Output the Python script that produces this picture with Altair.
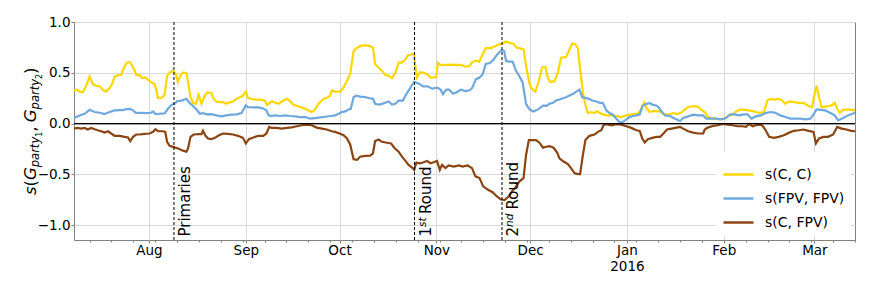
import altair as alt
import pandas as pd

FONT = "DejaVu Sans"
BASE = pd.Timestamp("2015-07-01")

# (day offset from 2015-07-01, value)
cc = [(7,0.325),(7.9,0.334),(8.8,0.315),(9.8,0.308),(10.9,0.373),(12.0,0.461),(13.0,0.39),(14.1,0.373),(15.2,0.367),(16.2,0.334),
      (17.1,0.315),(18.2,0.341),(19.2,0.39),(20.0,0.461),(21.1,0.477),(22.1,0.48),(23.0,0.552),(23.9,0.60),(24.8,0.607),(25.5,0.575),
      (26.4,0.526),(26.9,0.477),(28.0,0.477),(28.9,0.448),(29.9,0.455),(30.7,0.432),(31.7,0.406),(32.8,0.39),(33.4,0.325),(33.9,0.253),
      (35.0,0.253),(36.0,0.282),(36.8,0.47),(37.6,0.503),(38.7,0.519),(39.6,0.487),(40.2,0.412),(41.0,0.47),(41.9,0.503),(43.0,0.497),
      (43.5,0.406),(44.3,0.26),(45.1,0.205),(46.0,0.195),(46.9,0.282),(47.8,0.195),(48.9,0.276),(49.6,0.308),(51.0,0.302),(51.7,0.244),
      (52.6,0.218),(53.7,0.211),(54.7,0.211),(55.8,0.195),(56.9,0.211),(57.9,0.218),(59.0,0.244),(60.1,0.26),(61.1,0.276),(62.0,0.315),
      (62.7,0.253),(63.8,0.244),(64.9,0.237),(65.9,0.237),(67.0,0.234),(68.1,0.227),(68.8,0.185),(70.3,0.218),(71.4,0.205),(72.4,0.195),
      (73.5,0.218),(75.1,0.244),(76.2,0.221),(77.2,0.185),(78.9,0.169),(80.5,0.153),(82.1,0.13),(83.1,0.114),(83.9,0.13),(85.3,0.195),
      (86.9,0.244),(88.3,0.26),(89.0,0.276),(89.5,0.325),(90.6,0.315),(92.2,0.315),(93.3,0.357),(94.4,0.422),(95.4,0.487),(96.5,0.714),
      (97.3,0.74),(98.6,0.763),(100.2,0.773),(101.8,0.763),(102.7,0.747),(103.4,0.584),(104.5,0.552),(105.6,0.519),(106.6,0.48),(107.7,0.47),
      (108.8,0.448),(109.9,0.503),(110.9,0.60),(112.0,0.60),(113.1,0.633),(113.9,0.672),(115.2,0.682),(115.8,0.69),(116.7,0.451),(117.8,0.506),
      (119.0,0.5),(120.1,0.484),(121.2,0.451),(122.9,0.458),(123.5,0.6),(124.4,0.575),(126.0,0.578),(127.6,0.58),(129.2,0.578),(130.8,0.578),
      (132.2,0.56),(133.5,0.565),(134.5,0.604),(135.6,0.62),(136.7,0.61),(137.8,0.68),(138.8,0.743),(140.4,0.743),(142.0,0.763),(143.1,0.782),
      (143.9,0.782),(145.2,0.808),(146.4,0.795),(147.7,0.786),(148.7,0.747),(149.8,0.74),(150.9,0.73),(151.7,0.568),(152.8,0.39),(153.6,0.341),
      (154.7,0.315),(155.8,0.422),(156.8,0.552),(157.9,0.558),(158.7,0.448),(159.4,0.412),(160.8,0.416),(161.9,0.503),(162.9,0.649),(164.5,0.656),
      (165.4,0.714),(166.5,0.789),(167.5,0.779),(168.3,0.74),(169.0,0.536),(169.9,0.308),(170.7,0.185),(171.5,0.104),(172.6,0.114),(173.6,0.104),
      (174.4,0.123),(175.2,0.107),(176.3,0.091),(177.4,0.081),(179.0,0.081),(180.6,0.075),(182.2,0.065),(183.8,0.081),(185.1,0.088),(186.5,0.097),
      (187.5,0.097),(188.6,0.146),(189.5,0.205),(190.2,0.153),(191.3,0.114),(192.3,0.123),(193.4,0.123),(194.6,0.12),(195.7,0.097),(197.3,0.088),
      (198.9,0.104),(199.9,0.094),(201.3,0.107),(202.6,0.14),(203.6,0.162),(205.2,0.172),(206.8,0.166),(207.8,0.136),(208.9,0.114),(209.9,0.065),
      (211.0,0.055),(212.0,0.049),(213.6,0.042),(215.2,0.049),(216.8,0.081),(217.8,0.088),(218.9,0.12),(220.3,0.14),(221.5,0.136),(223.1,0.13),
      (224.7,0.12),(226.3,0.107),(227.9,0.114),(228.9,0.227),(230.0,0.244),(231.2,0.237),(232.6,0.244),(233.7,0.227),(234.7,0.195),(235.8,0.218),
      (237.4,0.211),(239.0,0.205),(240.5,0.205),(241.8,0.179),(243.2,0.162),(244.0,0.276),(244.7,0.373),(245.5,0.26),(246.3,0.162),(247.9,0.169),
      (249.5,0.179),(250.5,0.205),(251.3,0.146),(252.1,0.107),(253.2,0.136),(254.8,0.14),(257,0.13)]

fpv = [(7,0.055),(8.8,0.081),(10.4,0.097),(12.0,0.136),(13.6,0.114),(15.2,0.107),(16.8,0.094),(18.4,0.114),(20.0,0.13),(21.6,0.133),
       (22.7,0.133),(23.7,0.143),(25.0,0.146),(25.9,0.13),(26.9,0.104),(28.5,0.107),(30.1,0.104),(31.7,0.107),(32.3,0.12),(33.1,0.094),
       (34.4,0.097),(36.0,0.10),(37.1,0.146),(38.2,0.185),(39.2,0.195),(40.0,0.22),(41.4,0.227),(43.0,0.244),(43.8,0.211),(44.9,0.179),
       (46.0,0.146),(47.3,0.097),(48.3,0.104),(49.4,0.091),(51.0,0.094),(52.6,0.081),(54.2,0.071),(55.8,0.081),(57.4,0.088),(59.0,0.091),
       (60.6,0.104),(62.0,0.179),(62.7,0.162),(64.4,0.159),(66.0,0.159),(67.6,0.149),(68.6,0.13),(69.2,0.088),(69.8,0.075),(71.4,0.081),
       (73.0,0.075),(74.6,0.081),(76.2,0.075),(77.8,0.071),(79.4,0.065),(81.0,0.065),(82.6,0.049),(84.2,0.055),(85.8,0.062),(87.4,0.068),
       (89.0,0.075),(90.6,0.081),(91.7,0.097),(92.7,0.114),(93.8,0.12),(94.9,0.14),(95.6,0.146),(96.5,0.26),(97.3,0.276),(98.6,0.266),
       (100.2,0.26),(101.6,0.25),(102.7,0.244),(103.4,0.195),(104.5,0.188),(105.6,0.195),(106.6,0.205),(107.7,0.218),(108.8,0.188),(109.9,0.195),
       (110.9,0.227),(112.3,0.227),(113.1,0.276),(114.1,0.325),(115.2,0.38),(115.9,0.412),(117.4,0.393),(118.7,0.367),(120.1,0.367),(121.7,0.344),
       (123.3,0.354),(124.4,0.334),(125.1,0.289),(126.2,0.334),(127.1,0.334),(128.3,0.295),(129.7,0.312),(130.8,0.334),(132.2,0.321),(133.7,0.328),
       (134.5,0.354),(135.6,0.435),(136.7,0.451),(137.8,0.484),(138.8,0.588),(140.1,0.597),(141.2,0.627),(142.6,0.685),(143.9,0.724),(144.7,0.715),
       (145.3,0.617),(146.2,0.61),(147.4,0.61),(148.5,0.519),(149.6,0.464),(150.6,0.406),(151.7,0.195),(152.8,0.14),(154.1,0.12),(155.5,0.14),
       (156.5,0.162),(157.3,0.179),(158.1,0.172),(159.2,0.195),(160.3,0.205),(161.3,0.227),(162.4,0.237),(163.5,0.25),(164.5,0.26),(165.6,0.276),
       (166.7,0.292),(167.8,0.315),(168.8,0.334),(169.7,0.26),(170.7,0.253),(171.8,0.244),(172.9,0.227),(174.2,0.218),(175.4,0.205),(176.3,0.205),
       (177.4,0.13),(178.4,0.104),(179.5,0.088),(180.6,0.049),(181.6,0.016),(182.7,0.016),(183.8,0.042),(184.9,0.065),(185.9,0.075),(187.0,0.081),
       (188.1,0.091),(188.9,0.172),(190.2,0.195),(191.3,0.201),(192.3,0.185),(193.4,0.179),(194.1,0.162),(195.2,0.114),(196.2,0.081),(197.8,0.075),
       (199.4,0.049),(201.0,0.026),(202.0,0.055),(203.6,0.071),(205.2,0.088),(206.8,0.081),(208.4,0.081),(209.4,0.049),(211.0,0.049),(212.6,0.049),
       (214.2,0.042),(215.7,0.055),(217.1,0.091),(218.4,0.091),(220.0,0.081),(221.3,0.091),(222.6,0.091),(223.9,0.049),(225.2,0.071),(226.8,0.081),
       (228.4,0.104),(230.0,0.114),(231.5,0.107),(233.1,0.081),(234.7,0.065),(236.3,0.049),(237.9,0.049),(239.5,0.049),(241.1,0.042),(242.7,0.049),
       (243.7,0.088),(244.7,0.14),(245.8,0.136),(247.4,0.13),(249.0,0.107),(250.5,0.081),(251.6,0.032),(253.2,0.055),(254.8,0.081),(257,0.107)]

c_fpv = [(7,-0.049),(8.2,-0.042),(9.3,-0.049),(10.4,-0.042),(11.4,-0.058),(12.5,-0.042),(13.6,-0.055),(14.6,-0.065),(15.7,-0.075),(16.8,-0.088),
         (17.9,-0.075),(18.9,-0.097),(20.0,-0.12),(21.6,-0.12),(23.2,-0.13),(24.3,-0.136),(25.0,-0.172),(25.9,-0.13),(26.9,-0.107),(28.0,-0.107),
         (29.6,-0.10),(31.2,-0.097),(32.3,-0.081),(33.1,-0.055),(33.9,-0.075),(35.5,-0.075),(36.2,-0.081),(36.8,-0.179),(37.6,-0.218),(39.2,-0.234),
         (40.3,-0.244),(41.9,-0.266),(43.0,-0.276),(43.5,-0.244),(44.3,-0.13),(45.3,-0.107),(46.7,-0.104),(47.8,-0.104),(48.3,-0.071),(49.1,-0.12),
         (49.9,-0.146),(51.0,-0.153),(52.1,-0.14),(53.4,-0.114),(54.7,-0.097),(56.3,-0.10),(57.9,-0.107),(59.5,-0.12),(61.1,-0.14),(62.0,-0.195),
         (63.0,-0.153),(64.4,-0.136),(66.0,-0.12),(67.6,-0.12),(68.6,-0.097),(69.5,-0.032),(70.3,-0.042),(71.9,-0.042),(73.5,-0.049),(75.1,-0.042),
         (76.7,-0.036),(78.3,-0.026),(79.9,-0.016),(81.5,-0.01),(83.1,-0.016),(84.7,-0.039),(86.3,-0.049),(87.9,-0.058),(89.5,-0.075),(90.6,-0.081),
         (92.0,-0.097),(93.3,-0.114),(94.4,-0.146),(95.4,-0.205),(96.5,-0.351),(97.6,-0.357),(98.6,-0.325),(100.2,-0.318),(101.8,-0.315),(102.7,-0.292),
         (103.4,-0.172),(104.5,-0.156),(105.6,-0.179),(107.2,-0.188),(108.5,-0.195),(109.5,-0.237),(110.9,-0.276),(112.0,-0.325),(113.1,-0.367),(114.1,-0.406),
         (115.2,-0.432),(115.9,-0.455),(116.6,-0.383),(117.7,-0.39),(118.7,-0.383),(120.0,-0.367),(121.1,-0.39),(122.1,-0.38),(123.2,-0.367),(124.1,-0.455),
         (124.8,-0.406),(125.9,-0.438),(126.9,-0.412),(128.6,-0.422),(130.2,-0.412),(131.4,-0.422),(133.0,-0.412),(134.4,-0.438),(135.5,-0.519),(136.8,-0.536),
         (138.0,-0.617),(139.4,-0.649),(141.0,-0.675),(142.3,-0.714),(143.7,-0.747),(144.8,-0.753),(146.2,-0.714),(147.2,-0.666),(148.3,-0.627),(149.6,-0.568),
         (150.9,-0.536),(151.7,-0.308),(152.6,-0.162),(153.6,-0.162),(154.9,-0.162),(156.0,-0.188),(157.1,-0.237),(158.1,-0.227),(159.2,-0.221),(160.5,-0.237),
         (161.6,-0.282),(162.4,-0.341),(163.7,-0.373),(165.1,-0.399),(166.1,-0.438),(167.2,-0.487),(168.3,-0.497),(169.0,-0.497),(169.9,-0.308),(170.7,-0.162),
         (172.0,-0.12),(173.6,-0.107),(174.7,-0.081),(175.8,-0.065),(176.5,-0.016),(177.4,-0.006),(179.0,-0.016),(180.6,-0.006),(182.2,-0.01),(183.8,-0.026),
         (185.4,-0.042),(187.0,-0.065),(188.1,-0.071),(188.9,-0.146),(189.7,-0.185),(190.7,-0.153),(192.1,-0.14),(193.4,-0.13),(194.6,-0.13),(195.7,-0.097),
         (196.8,-0.058),(198.3,-0.049),(199.9,-0.039),(201.0,-0.032),(202.0,-0.049),(203.6,-0.075),(205.2,-0.088),(206.8,-0.097),(208.4,-0.097),(208.9,-0.058),
         (209.9,-0.039),(211.5,-0.023),(213.1,-0.016),(214.7,-0.003),(216.3,-0.01),(217.8,-0.016),(219.4,-0.026),(221.0,-0.026),(222.1,-0.032),(223.1,-0.003),
         (224.2,-0.026),(225.8,-0.01),(227.3,-0.016),(228.4,-0.065),(229.5,-0.13),(231.0,-0.14),(232.6,-0.13),(234.2,-0.114),(235.8,-0.091),(237.4,-0.071),
         (239.0,-0.065),(240.5,-0.058),(242.1,-0.071),(243.7,-0.081),(244.5,-0.195),(245.5,-0.146),(246.9,-0.13),(248.4,-0.13),(250.0,-0.107),(251.3,-0.032),
         (252.7,-0.049),(254.2,-0.058),(255.8,-0.071),(257,-0.075)]

series_names = ["s(C, C)", "s(FPV, FPV)", "s(C, FPV)"]
series_colors = ["#FFD700", "#6FA8DC", "#8B4513"]

event_dates = ["2015-08-09", "2015-10-25", "2015-11-22"]
event_main = ["Primaries", "1", "2"]
event_sup = ["", "st", "nd"]

frames = []
for name, pts in zip(series_names, [cc, fpv, c_fpv]):
    frames.append(pd.DataFrame({
        "date": [BASE + pd.Timedelta(days=d) for d, _ in pts],
        "value": [v for _, v in pts],
        "series": name,
    }))
df = pd.concat(frames, ignore_index=True)

x_scale = alt.Scale(domain=[alt.DateTime(year=2015, month=7, date=8),
                            alt.DateTime(year=2016, month=3, date=14)])
y_scale = alt.Scale(domain=[-1.145, 1.0], nice=False, zero=False)

month_vals = [alt.DateTime(year=2015, month=m, date=1) for m in range(8, 13)] + \
             [alt.DateTime(year=2016, month=m, date=1) for m in range(1, 4)]
week_vals = [alt.DateTime(year=d.year, month=d.month, date=d.day)
             for d in pd.date_range("2015-07-13", "2016-03-14", freq="W-MON")]

x_axis = alt.Axis(values=month_vals, title=None, grid=True, tickSize=3, labelPadding=0,
                  labelExpr="month(datum.value) == 0 ? [timeFormat(datum.value, '%b'), timeFormat(datum.value, '%Y')] : timeFormat(datum.value, '%b')",
                  labelLineHeight=16)
y_axis = alt.Axis(values=[-1.0, -0.5, 0.0, 0.5, 1.0], format=".1f", title=None, grid=True,
                  tickSize=3, labelPadding=1)

lines = alt.Chart(df).mark_line(strokeWidth=2.2).encode(
    x=alt.X("date:T", scale=x_scale, axis=x_axis),
    y=alt.Y("value:Q", scale=y_scale, axis=y_axis),
    color=alt.Color("series:N", sort=series_names,
                    scale=alt.Scale(domain=series_names, range=series_colors),
                    legend=alt.Legend(title=None, orient="bottom-right", offset=4.5, padding=6,
                                      fillColor="white", symbolType="stroke", symbolSize=900,
                                      symbolStrokeWidth=2.5, labelFont=FONT, labelFontSize=14,
                                      labelOffset=10, rowPadding=-17, labelLimit=300)),
)

zero = alt.Chart(pd.DataFrame({"v": [0.0]})).mark_rule(color="black", strokeWidth=1.2).encode(
    y=alt.Y("v:Q", scale=y_scale, axis=y_axis))

ev = pd.DataFrame({"date": event_dates, "main": event_main, "sup": event_sup})
rules = alt.Chart(ev).mark_rule(color="black", strokeWidth=1, strokeDash=[3, 2]).encode(
    x=alt.X("date:T", scale=x_scale,
            axis=alt.Axis(orient="bottom", values=week_vals, labels=False, grid=False,
                          domain=False, tickSize=2, title=None)))

def ev_text(data, field, size, dx, dy, style="normal"):
    return alt.Chart(data).mark_text(angle=270, align="left", baseline="top", font=FONT,
                                     fontSize=size, fontStyle=style, dx=dx, dy=dy,
                                     color="black").encode(
        x=alt.X("date:T", scale=x_scale, axis=None), y=alt.value(214.5), text=f"{field}:N")

ev_main = ev_text(ev, "main", 15, 0, 4.5)
ev_sup = ev_text(ev[ev["sup"] != ""], "sup", 10.5, 9.5, 3.5, "italic")
ev_r1 = ev_text(pd.DataFrame({"date": [event_dates[1]], "t": ["Round"]}), "t", 15, 22.5, 4.5)
ev_r2 = ev_text(pd.DataFrame({"date": [event_dates[2]], "t": ["Round"]}), "t", 15, 27, 4.5)

# y title: s(G_{party_1}, G_{party_2}) built from pieces
title_pieces = [("s", 0, 0, 16.5, "italic"), ("(", 8.6, 0, 16.5, "normal"), ("G", 15.0, 0, 16.5, "italic"),
                ("party", 27.8, 3.5, 11.5, "italic"), ("1", 58.2, 6, 8, "normal"),
                (",", 63.3, 0, 16.5, "normal"), ("G", 72.8, 0, 16.5, "italic"),
                ("party", 85.6, 3.5, 11.5, "italic"), ("2", 116.0, 6, 8, "normal"),
                (")", 121.1, 0, 16.5, "normal")]
title_layers = []
for txt, along, shift, size, style in title_pieces:
    title_layers.append(
        alt.Chart(pd.DataFrame({"t": [txt]})).mark_text(
            angle=270, align="left", baseline="alphabetic", font=FONT, fontSize=size,
            fontStyle=style, color="black").encode(
            x=alt.value(-38.5 + shift), y=alt.value(173 - along), text="t:N"))

chart = alt.layer(lines, zero, rules, ev_main, ev_sup, ev_r1, ev_r2, *title_layers).resolve_axis(
    x="independent"
).properties(
    width=781, height=218,
    autosize=alt.AutoSizeParams(type="none"),
    padding={"left": 66, "top": 14, "right": 9, "bottom": 45},
).configure_view(stroke="#808080", strokeWidth=1).configure_axis(
    labelFont=FONT, labelFontSize=13.5, labelColor="black", tickColor="#808080",
    gridColor="#d9d9d9", gridWidth=1, domain=False,
)

chart.save("out.html", embed_options={"renderer": "svg", "actions": False})
